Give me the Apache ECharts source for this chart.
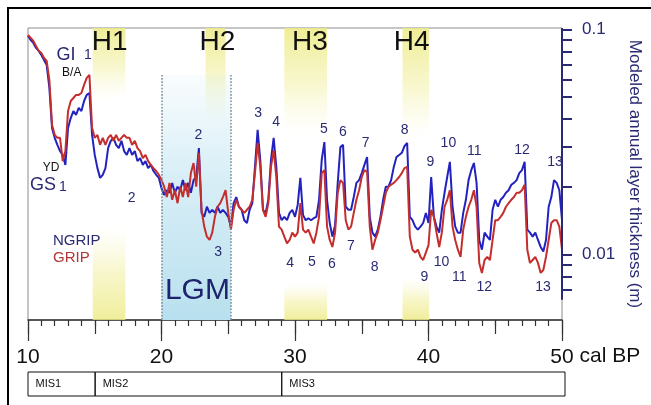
<!DOCTYPE html>
<html>
<head>
<meta charset="utf-8">
<script src="https://cdn.jsdelivr.net/npm/echarts@6/dist/echarts.min.js"></script>
<style>
  html, body { margin: 0; padding: 0; background: #fff; }
  #chart { width: 651px; height: 405px; }
</style>
</head>
<body>
<div id="chart"></div>
<script>
// Age axis (kyr cal BP), sampled every 200 years
const ages = [
  10.0,10.2,10.4,10.6,10.8,11.0,11.2,11.4,11.6,11.8,
  12.0,12.2,12.4,12.6,12.8,13.0,13.2,13.4,13.6,13.8,
  14.0,14.2,14.4,14.6,14.8,15.0,15.2,15.4,15.6,15.8,
  16.0,16.2,16.4,16.6,16.8,17.0,17.2,17.4,17.6,17.8,
  18.0,18.2,18.4,18.6,18.8,19.0,19.2,19.4,19.6,19.8,
  20.0,20.2,20.4,20.6,20.8,21.0,21.2,21.4,21.6,21.8,
  22.0,22.2,22.4,22.6,22.8,23.0,23.2,23.4,23.6,23.8,
  24.0,24.2,24.4,24.6,24.8,25.0,25.2,25.4,25.6,25.8,
  26.0,26.2,26.4,26.6,26.8,27.0,27.2,27.4,27.6,27.8,
  28.0,28.2,28.4,28.6,28.8,29.0,29.2,29.4,29.6,29.8,
  30.0,30.2,30.4,30.6,30.8,31.0,31.2,31.4,31.6,31.8,
  32.0,32.2,32.4,32.6,32.8,33.0,33.2,33.4,33.6,33.8,
  34.0,34.2,34.4,34.6,34.8,35.0,35.2,35.4,35.6,35.8,
  36.0,36.2,36.4,36.6,36.8,37.0,37.2,37.4,37.6,37.8,
  38.0,38.2,38.4,38.6,38.8,39.0,39.2,39.4,39.6,39.8,
  40.0,40.2,40.4,40.6,40.8,41.0,41.2,41.4,41.6,41.8,
  42.0,42.2,42.4,42.6,42.8,43.0,43.2,43.4,43.6,43.8,
  44.0,44.2,44.4,44.6,44.8,45.0,45.2,45.4,45.6,45.8,
  46.0,46.2,46.4,46.6,46.8,47.0,47.2,47.4,47.6,47.8,
  48.0,48.2,48.4,48.6,48.8,49.0,49.2,49.4,49.6,49.8,
  50.0
];

// Modeled annual layer thickness (m), NGRIP
const ngrip = [
  0.0936,0.0898,0.0871,0.0828,0.0803,0.0770,0.0732,0.0695,0.0550,0.0365,
  0.0330,0.0307,0.0288,0.0277,0.0250,0.0365,0.0404,0.0434,0.0417,0.0448,
  0.0434,0.0481,0.0512,0.0522,0.0340,0.0277,0.0242,0.0219,0.0226,0.0242,
  0.0297,0.0320,0.0330,0.0307,0.0297,0.0320,0.0288,0.0277,0.0297,0.0277,
  0.0288,0.0260,0.0268,0.0250,0.0260,0.0242,0.0250,0.0235,0.0226,0.0219,
  0.0197,0.0184,0.0193,0.0188,0.0208,0.0188,0.0200,0.0193,0.0214,0.0193,
  0.0208,0.0188,0.0214,0.0221,0.0297,0.0153,0.0147,0.0163,0.0153,0.0158,
  0.0153,0.0163,0.0153,0.0158,0.0153,0.0147,0.0133,0.0169,0.0180,0.0163,
  0.0158,0.0142,0.0138,0.0158,0.0169,0.0245,0.0358,0.0263,0.0158,0.0153,
  0.0175,0.0263,0.0330,0.0245,0.0153,0.0142,0.0147,0.0142,0.0153,0.0158,
  0.0147,0.0166,0.0219,0.0150,0.0142,0.0145,0.0142,0.0145,0.0147,0.0175,
  0.0263,0.0316,0.0175,0.0138,0.0120,0.0135,0.0208,0.0300,0.0307,0.0163,
  0.0158,0.0158,0.0180,0.0208,0.0214,0.0230,0.0250,0.0271,0.0147,0.0125,
  0.0120,0.0129,0.0147,0.0175,0.0200,0.0200,0.0214,0.0245,0.0271,0.0277,
  0.0283,0.0303,0.0313,0.0147,0.0142,0.0133,0.0129,0.0133,0.0138,0.0153,
  0.0138,0.0221,0.0147,0.0133,0.0125,0.0158,0.0188,0.0221,0.0258,0.0163,
  0.0133,0.0125,0.0125,0.0153,0.0175,0.0214,0.0237,0.0255,0.0208,0.0116,
  0.0105,0.0125,0.0120,0.0116,0.0158,0.0175,0.0163,0.0175,0.0180,0.0188,
  0.0193,0.0204,0.0208,0.0214,0.0230,0.0237,0.0258,0.0129,0.0125,0.0120,
  0.0125,0.0116,0.0108,0.0103,0.0116,0.0163,0.0180,0.0214,0.0208,0.0193,
  0.0142
];

// Modeled annual layer thickness (m), GRIP
const grip = [
  0.0945,0.0917,0.0889,0.0845,0.0803,0.0786,0.0747,0.0724,0.0596,0.0376,
  0.0340,0.0330,0.0330,0.0260,0.0288,0.0434,0.0481,0.0496,0.0512,0.0512,
  0.0522,0.0567,0.0609,0.0628,0.0365,0.0330,0.0340,0.0307,0.0330,0.0307,
  0.0330,0.0340,0.0320,0.0340,0.0320,0.0330,0.0340,0.0330,0.0330,0.0307,
  0.0320,0.0297,0.0288,0.0268,0.0277,0.0260,0.0250,0.0242,0.0235,0.0226,
  0.0214,0.0200,0.0180,0.0208,0.0175,0.0193,0.0169,0.0200,0.0180,0.0208,
  0.0180,0.0230,0.0255,0.0200,0.0283,0.0158,0.0133,0.0120,0.0116,0.0125,
  0.0147,0.0163,0.0169,0.0180,0.0193,0.0153,0.0129,0.0158,0.0175,0.0163,
  0.0158,0.0153,0.0158,0.0163,0.0175,0.0230,0.0313,0.0245,0.0158,0.0147,
  0.0169,0.0245,0.0291,0.0221,0.0133,0.0129,0.0120,0.0112,0.0116,0.0125,
  0.0120,0.0125,0.0169,0.0129,0.0125,0.0129,0.0120,0.0112,0.0125,0.0147,
  0.0230,0.0237,0.0133,0.0116,0.0108,0.0125,0.0188,0.0214,0.0208,0.0142,
  0.0129,0.0133,0.0153,0.0175,0.0193,0.0221,0.0237,0.0233,0.0133,0.0105,
  0.0116,0.0125,0.0142,0.0163,0.0188,0.0200,0.0204,0.0208,0.0214,0.0221,
  0.0230,0.0242,0.0245,0.0120,0.0105,0.0102,0.0105,0.00975,0.00945,0.0102,
  0.0110,0.0158,0.0147,0.0125,0.0108,0.0125,0.0163,0.0175,0.0193,0.0133,
  0.0116,0.0105,0.00975,0.0129,0.0147,0.0163,0.0175,0.0193,0.0163,0.00917,
  0.00828,0.00945,0.00975,0.00945,0.0116,0.0142,0.0142,0.0147,0.0153,0.0163,
  0.0169,0.0175,0.0180,0.0188,0.0188,0.0193,0.0204,0.0105,0.00917,0.00945,
  0.00975,0.00917,0.00828,0.00853,0.00975,0.0116,0.0138,0.0142,0.0142,0.0133,
  0.0105
];

// Right-axis tick values (m) and labelled values
const thicknessTicks = [0.1,0.09,0.08,0.07,0.06,0.05,0.04,0.03,0.02,0.01,0.009,0.008,0.007];
const thicknessLabels = [0.1, 0.01];

// Heinrich events (kyr)
const heinrichNames = ['H1','H2','H3','H4'];
const heinrichStart = [14.85, 23.3, 29.2, 38.05];
const heinrichEnd   = [17.3, 24.8, 32.4, 40.05];

// Last Glacial Maximum (kyr)
const lgmStart = 20.0;
const lgmEnd = 25.2;

// Marine isotope stages (kyr)
const misNames = ['MIS1','MIS2','MIS3'];
const misStart = [10, 15, 28.9];
const misEnd   = [15, 28.9, 50];

// Interstadial (GI) numbers above the peaks: age, thickness
const giNames = ['2','3','4','5','6','7','8','9','10','11','12','13'];
const giAges  = [22.76,27.24,28.58,32.16,33.58,35.30,38.21,40.15,41.49,43.43,47.01,49.48];
const giLevel = [0.0340,0.0426,0.0388,0.0361,0.0350,0.0313,0.0358,0.0258,0.0313,0.0288,0.0291,0.0258];

// Stadial (GS) numbers below the troughs: age, thickness
const gsNames = ['3','4','5','6','7','8','9','10','11','12','13'];
const gsAges  = [24.25,29.63,31.27,32.76,34.18,35.97,39.70,40.97,42.31,44.18,48.58];
const gsLevel = [0.0102,0.00917,0.00926,0.00908,0.0109,0.00880,0.00794,0.00926,0.00794,0.00717,0.00717];

const FONT = 'Liberation Sans, Arial, Helvetica, sans-serif';
const NAVY = '#2a2a72';
const BLUE = '#2222c0';
const RED = '#c42e2c';
const Y_TOP = 0.1015;
const Y_BOTTOM = 0.005115;

const chart = echarts.init(document.getElementById('chart'), null, { renderer: 'canvas' });

const zip = (xs, ys) => xs.map((x, i) => [x, ys[i]]);
const textPoints = (names, xs, ys) => names.map((n, i) => ({ name: n, value: [xs[i], ys[i]] }));

// text annotations anchored at (age, thickness)
function textSeries(points, size, color) {
  return {
    type: 'scatter', xAxisIndex: 0, yAxisIndex: 0, z: 6, silent: true,
    symbolSize: 1, itemStyle: { color: 'rgba(0,0,0,0)', opacity: 1 },
    label: {
      show: true, position: 'inside', formatter: '{b}', align: 'center',
      fontSize: size, color: color, fontFamily: FONT, opacity: 1
    },
    data: points
  };
}

const yellowTop = {
  type: 'linear', x: 0, y: 0, x2: 0, y2: 1,
  colorStops: [
    { offset: 0, color: 'rgba(236,234,130,0.85)' },
    { offset: 0.55, color: 'rgba(240,238,150,0.45)' },
    { offset: 1, color: 'rgba(246,244,190,0)' }
  ]
};
const yellowBottom = {
  type: 'linear', x: 0, y: 0, x2: 0, y2: 1,
  colorStops: [
    { offset: 0, color: 'rgba(246,244,190,0)' },
    { offset: 0.5, color: 'rgba(240,238,150,0.5)' },
    { offset: 1, color: 'rgba(236,234,130,0.8)' }
  ]
};
const hTopLevel = [0.0486, 0.0384, 0.0347, 0.0333];
const hBottomLevel = [0.0133, 0.0088, 0.00747, 0.00786];

const bandAreas = [];
heinrichNames.forEach((n, i) => {
  bandAreas.push([
    { xAxis: heinrichStart[i], yAxis: Y_TOP, itemStyle: { color: yellowTop } },
    { xAxis: heinrichEnd[i], yAxis: hTopLevel[i] }
  ]);
  bandAreas.push([
    { xAxis: heinrichStart[i], yAxis: hBottomLevel[i], itemStyle: { color: yellowBottom } },
    { xAxis: heinrichEnd[i], yAxis: Y_BOTTOM }
  ]);
});
const lgmArea = [
  { xAxis: lgmStart, yAxis: 0.0628, itemStyle: { color: {
      type: 'linear', x: 0, y: 0, x2: 0, y2: 1,
      colorStops: [
        { offset: 0, color: 'rgba(196,230,242,0.1)' },
        { offset: 0.4, color: 'rgba(192,228,241,0.6)' },
        { offset: 1, color: 'rgba(184,224,239,1)' }
      ] } } },
  { xAxis: lgmEnd, yAxis: Y_BOTTOM }
];

const option = {
  animation: false,
  backgroundColor: '#fff',
  textStyle: { fontFamily: FONT },
  graphic: [{
    type: 'rect', silent: true, z: 0,
    shape: { x: 8, y: 8, width: 900, height: 700 },
    style: { fill: 'none', stroke: '#000', lineWidth: 2 }
  }],
  legend: {
    left: 48, top: 233, orient: 'vertical', icon: 'none',
    itemWidth: 0, itemHeight: 14, itemGap: 2, padding: 0, selectedMode: false,
    textStyle: { fontSize: 15, fontFamily: FONT },
    data: [
      { name: 'NGRIP', textStyle: { color: NAVY } },
      { name: 'GRIP', textStyle: { color: '#b23434' } }
    ]
  },
  grid: [
    { left: 28, right: 86, top: 28, bottom: 85, show: true, borderColor: '#8c8c8c', borderWidth: 1 },
    { left: 28, right: 86, top: 372, height: 24 }
  ],
  xAxis: [
    {
      gridIndex: 0, type: 'value', min: 10, max: 50, interval: 10, position: 'bottom',
      axisLine: { lineStyle: { color: '#333', width: 1.5 } },
      axisTick: { length: 21, lineStyle: { color: '#333', width: 1.2 } },
      minorTick: { show: true, splitNumber: 10, length: 6, lineStyle: { color: '#333', width: 1.2 } },
      splitLine: { show: false }, minorSplitLine: { show: false },
      axisLabel: { fontSize: 21, color: '#111', margin: 27, fontFamily: FONT },
      name: 'cal BP', nameLocation: 'end', nameGap: 15,
      nameTextStyle: { fontSize: 21, color: '#111', verticalAlign: 'top', lineHeight: 21, padding: [26, 0, 0, 0], fontFamily: FONT }
    },
    {
      gridIndex: 0, type: 'value', min: 10, max: 50, interval: 5, position: 'bottom',
      axisLine: { show: false },
      axisTick: { length: 14, lineStyle: { color: '#333', width: 1.2 } },
      axisLabel: { show: false }, splitLine: { show: false }
    },
    { gridIndex: 1, type: 'value', min: 10, max: 50, show: false }
  ],
  yAxis: [
    {
      gridIndex: 0, type: 'log', logBase: 10, min: Y_BOTTOM, max: Y_TOP, position: 'right',
      axisLine: { show: false },
      axisTick: { show: true, length: 10, customValues: thicknessTicks, lineStyle: { color: NAVY, width: 2 } },
      minorTick: { show: false },
      splitLine: { show: false },
      axisLabel: {
        customValues: thicknessLabels, margin: 20, fontSize: 17, color: NAVY, fontFamily: FONT,
        formatter: v => String(+(+v).toPrecision(1))
      },
      name: 'Modeled annual layer thickness (m)', nameLocation: 'middle', nameRotate: -90, nameGap: 57,
      nameTextStyle: { fontSize: 17, color: NAVY, fontFamily: FONT }
    },
    { gridIndex: 1, type: 'value', min: 0, max: 1, show: false }
  ],
  series: [
    {
      // shaded Heinrich bands, LGM and the right axis line
      type: 'line', xAxisIndex: 0, yAxisIndex: 0, z: 1, silent: true,
      showSymbol: false, lineStyle: { opacity: 0 }, data: [[10, 0.05]],
      markArea: { silent: true, data: bandAreas.concat([lgmArea]) },
      markLine: {
        silent: true, symbol: ['none', 'none'], label: { show: false },
        data: [
          [{ coord: [lgmStart, 0.0628], lineStyle: { type: 'dotted', color: '#7f9299', width: 1.6 } },
           { coord: [lgmStart, Y_BOTTOM] }],
          [{ coord: [lgmEnd, 0.0628], lineStyle: { type: 'dotted', color: '#7f9299', width: 1.6 } },
           { coord: [lgmEnd, Y_BOTTOM] }],
          [{ coord: [50, Y_TOP], lineStyle: { type: 'solid', color: NAVY, width: 2 } },
           { coord: [50, 0.0063] }]
        ]
      }
    },
    {
      name: 'NGRIP', type: 'line', xAxisIndex: 0, yAxisIndex: 0, z: 3,
      showSymbol: false, color: BLUE, lineStyle: { width: 2, color: BLUE },
      data: zip(ages, ngrip)
    },
    {
      name: 'GRIP', type: 'line', xAxisIndex: 0, yAxisIndex: 0, z: 4,
      showSymbol: false, color: RED, lineStyle: { width: 2, color: RED },
      data: zip(ages, grip)
    },
    textSeries(textPoints(giNames, giAges, giLevel), 14, NAVY),
    textSeries(textPoints(gsNames, gsAges, gsLevel), 14, NAVY),
    textSeries(textPoints(heinrichNames, [16.12, 24.18, 31.12, 38.73], [0.088, 0.088, 0.088, 0.088]), 28, '#111'),
    textSeries([{ name: 'LGM', value: [22.69, 0.00688] }], 30, '#1e2370'),
    textSeries([
      { name: 'GI', value: [12.84, 0.0770] },
      { name: 'GS', value: [11.12, 0.0204] }
    ], 18, NAVY),
    textSeries([
      { name: '1', value: [14.48, 0.0770] },
      { name: '1', value: [12.61, 0.0200] },
      { name: '2', value: [17.76, 0.0178] }
    ], 14, NAVY),
    textSeries([
      { name: 'B/A', value: [13.28, 0.0641] },
      { name: 'YD', value: [11.72, 0.0242] }
    ], 12, '#111'),
    {
      // marine isotope stage strip
      type: 'line', xAxisIndex: 2, yAxisIndex: 1, silent: true,
      showSymbol: false, lineStyle: { opacity: 0 }, data: [[10, 0.5]],
      markArea: {
        silent: true,
        itemStyle: { color: 'rgba(0,0,0,0)', borderColor: '#111', borderWidth: 1 },
        label: { show: true, position: 'insideLeft', distance: 8, fontSize: 11, color: '#111', fontFamily: FONT },
        data: misNames.map((n, i) => [
          { name: n, xAxis: misStart[i], yAxis: 1 },
          { xAxis: misEnd[i], yAxis: 0 }
        ])
      }
    }
  ]
};

chart.setOption(option);
</script>
</body>
</html>
